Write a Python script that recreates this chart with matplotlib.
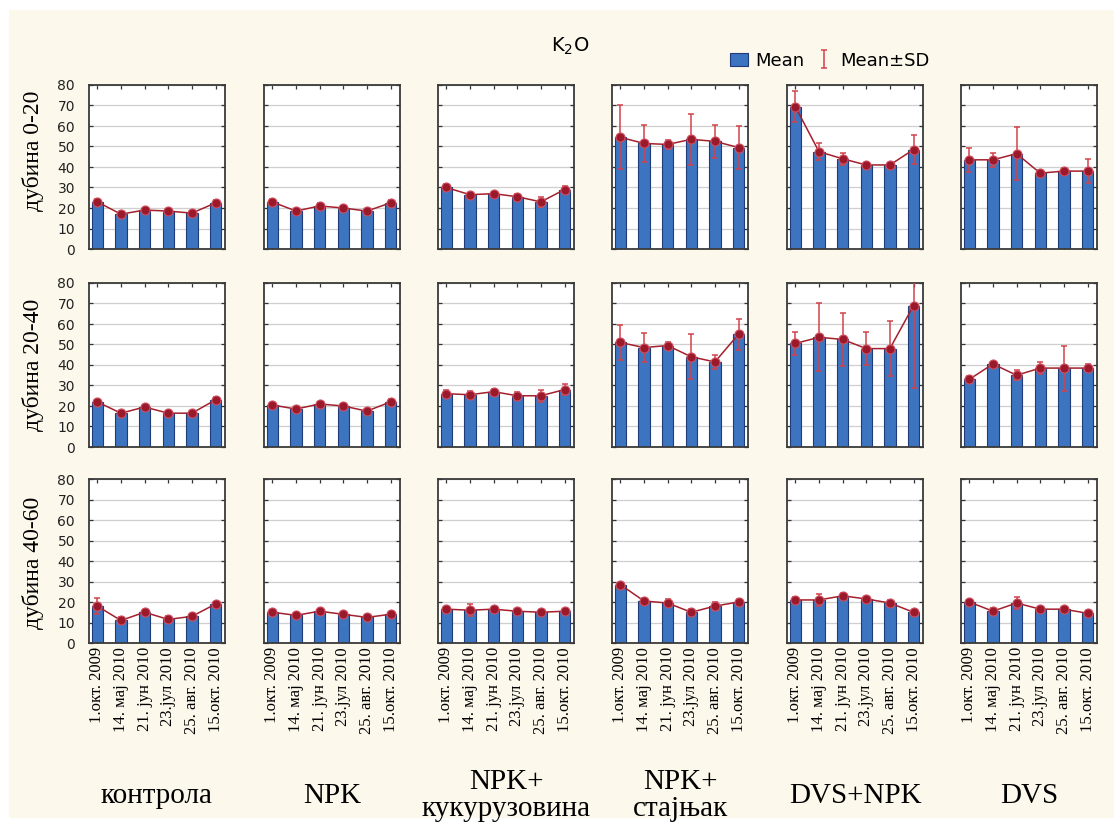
import matplotlib.pyplot as plt
import numpy as np
from matplotlib.patches import Rectangle

dates = ["1.окт. 2009", "14. мај 2010", "21. јун 2010", "23.јул 2010",
         "25. авг. 2010", "15.окт. 2010"]
treatments = ["контрола", "NPK", "NPK+\nкукурузовина", "NPK+\nстајњак",
              "DVS+NPK", "DVS"]
depths = ["дубина 0-20", "дубина 20-40", "дубина 40-60"]

# mean K2O, [depth][treatment][date]
mean_0_20 = [
    [23, 17, 19, 18.5, 17.5, 22.5],
    [23, 18.5, 21, 20, 18.5, 22.5],
    [30, 26.5, 27, 25.5, 23, 29],
    [54.5, 51.5, 51, 53.5, 52.5, 49.5],
    [69.5, 47.5, 44, 41, 41, 48.5],
    [43.5, 43.5, 46.5, 37, 38, 38],
]
sd_0_20 = [
    [1.5, 1, 1, 1, 1, 1.5],
    [1.5, 1, 1.5, 1, 1, 1.5],
    [1.5, 1, 1, 1.5, 2.5, 1.5],
    [15.5, 9, 2, 12.5, 8, 10.5],
    [7.5, 4, 3, 1, 1, 7],
    [6, 3.5, 13, 1.5, 1.5, 6],
]
mean_20_40 = [
    [22, 16.5, 19.5, 16.5, 16.5, 23],
    [20.5, 18.5, 21, 20, 17.5, 22],
    [26, 25.5, 27, 25, 25, 28],
    [51, 48.5, 49.5, 44, 41.5, 55],
    [50.5, 53.5, 52.5, 48, 48, 69],
    [33, 40.5, 35, 38.5, 38.5, 38.5],
]
sd_20_40 = [
    [1, 1, 1, 1, 1, 1.5],
    [1, 1, 1, 1, 1, 1.5],
    [2, 2, 1.5, 2, 3, 2.5],
    [8.5, 7, 1.5, 11, 3.5, 7.5],
    [5.5, 16.5, 13, 8, 13.5, 40],
    [1.5, 1, 2.5, 3, 11, 2],
]
mean_40_60 = [
    [18, 11, 15, 11.5, 13, 19],
    [15, 13.5, 15.5, 14, 12.5, 14],
    [16.5, 16, 16.5, 15.5, 15, 15.5],
    [28.5, 20.5, 19.5, 15, 18, 20],
    [21, 21, 23, 21.5, 19.5, 15],
    [20, 15.5, 19.5, 16.5, 16.5, 14.5],
]
sd_40_60 = [
    [4, 1.5, 1, 1.5, 1, 1],
    [1, 1, 1, 1, 1, 1],
    [1, 3, 1, 1, 1, 1],
    [1, 1.5, 2, 1.5, 2, 1.5],
    [1.5, 3, 1.5, 1, 1.5, 1],
    [1, 1.5, 3, 1, 1, 1],
]
means = [mean_0_20, mean_20_40, mean_40_60]
sds = [sd_0_20, sd_20_40, sd_40_60]

cream = "#fcf8ec"
bar_color = "#3c74c0"
bar_edge = "#1f3c78"
err_color = "#d2424a"
line_color = "#a3202c"

W, H = 1114, 830
fig = plt.figure(figsize=(W / 100, H / 100), dpi=100, facecolor=cream)
# white frame around the cream panel
for r in [(0, 1 - 10 / H, 1, 10 / H), (0, 0, 9 / W, 1), (0, 0, 1, 12 / H)]:
    fig.patches.append(Rectangle(r[:2], r[2], r[3], transform=fig.transFigure,
                                 facecolor="white", edgecolor="none", zorder=-1))

lefts = [89, 264, 438, 612, 787, 961]
tops = [85, 283, 479]
aw, ah = 136, 164
x = np.arange(len(dates))
label_y = [0.6, 0.5, 0.49]

bar_h = err_h = None
for i in range(3):
    for j in range(6):
        ax = fig.add_axes([lefts[j] / W, 1 - (tops[i] + ah) / H, aw / W, ah / H])
        ax.set_facecolor("white")
        m = np.array(means[i][j])
        s = np.array(sds[i][j])
        bar_h = ax.bar(x, m, width=0.48, color=bar_color, edgecolor=bar_edge,
                       linewidth=0.8, zorder=2)
        err_h = ax.errorbar(x, m, yerr=s, fmt="none", ecolor=err_color,
                            elinewidth=1.1, capsize=2.5, capthick=1.1, zorder=3)
        ax.plot(x, m, color=line_color, lw=1.1, marker="o", ms=6.5,
                mfc="#9a1a2c", mec="#d05060", mew=0.8, zorder=4)
        ax.set_xlim(-0.35, 5.4)
        ax.set_ylim(0, 80)
        ax.set_yticks(range(0, 81, 10))
        ax.set_xticks(x)
        ax.grid(axis="y", color="#cfcfcf", lw=0.9, zorder=0)
        ax.tick_params(direction="in", top=True, right=True, length=3,
                       color="#333333", width=0.9)
        for sp in ax.spines.values():
            sp.set_color("#3a3a3a")
            sp.set_linewidth(1.3)
        if j == 0:
            ax.set_yticklabels([str(v) for v in range(0, 81, 10)],
                               fontsize=10, color="#222222")
            ax.tick_params(axis="y", pad=10)
            ax.text(-0.41, label_y[i], depths[i], transform=ax.transAxes,
                    rotation=90, ha="center", va="center",
                    fontfamily="Liberation Serif", fontsize=17)
        else:
            ax.set_yticklabels([])
        if i == 2:
            ax.set_xticklabels(dates, rotation=90, fontsize=12,
                               fontfamily="Liberation Serif")
            ax.tick_params(axis="x", pad=3)
            ax.text(0.5, -0.93, treatments[j], transform=ax.transAxes,
                    ha="center", va="center", fontfamily="Liberation Serif",
                    fontsize=21, linespacing=1.05)
        else:
            ax.set_xticklabels([])

fig.text(0.512, 0.944, "K$_2$O", ha="center", va="center", fontsize=14)
fig.legend([bar_h, err_h], ["Mean", "Mean±SD"], loc="center",
           bbox_to_anchor=(0.745, 0.927), ncol=2, frameon=False, fontsize=13,
           handlelength=1.0, handletextpad=0.4, columnspacing=0.6)

fig.savefig("out.png", dpi=100, facecolor=fig.get_facecolor())
